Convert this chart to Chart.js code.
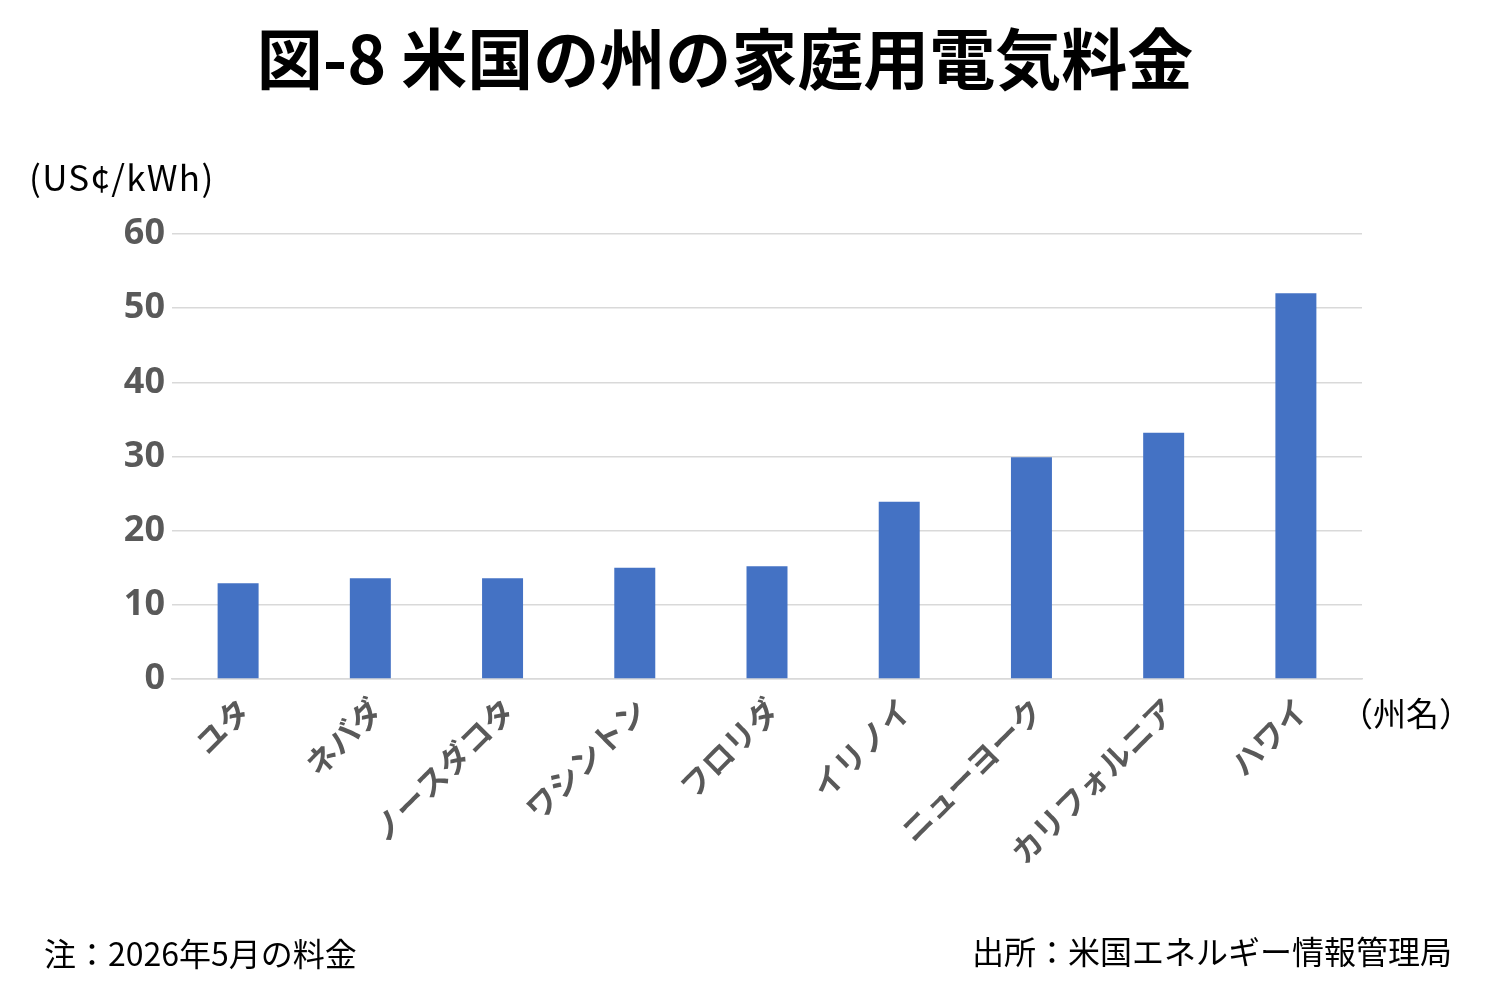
<!DOCTYPE html>
<html lang="ja">
<head>
<meta charset="utf-8">
<script src="https://cdn.jsdelivr.net/npm/chart.js@4/dist/chart.umd.min.js"></script>
<style>
  html, body { margin: 0; padding: 0; background: #fff; }
  #wrap { position: relative; width: 1500px; height: 1000px; font-family: 'Noto Sans CJK JP', 'Noto Sans', sans-serif; }
  #wrap canvas { position: absolute; left: 0; top: 0; }
  .txt { position: absolute; white-space: nowrap; color: #000; line-height: 1; }
  #title { left: 0; width: 1450px; top: 22px; text-align: center; font-size: 66px; font-weight: bold; }
  #unit { left: 29px; top: 158px; font-size: 35px; letter-spacing: 1.3px; }
  #xname { left: 1340px; top: 696px; font-size: 33px; }
  #note { left: 44px; top: 936px; font-size: 32px; }
  #src { right: 48px; top: 934px; font-size: 32px; }
</style>
</head>
<body>
<div id="wrap">
  <canvas id="myChart" width="1500" height="1000"></canvas>
  <div class="txt" id="title">図-8 米国の州の家庭用電気料金</div>
  <div class="txt" id="unit">(US¢/kWh)</div>
  <div class="txt" id="xname">（州名）</div>
  <div class="txt" id="note">注：2026年5月の料金</div>
  <div class="txt" id="src">出所：米国エネルギー情報管理局</div>
</div>
<script>
// 州名と料金 (US¢/kWh)
const states = ['ユタ', 'ネバダ', 'ノースダコタ', 'ワシントン', 'フロリダ', 'イリノイ', 'ニューヨーク', 'カリフォルニア', 'ハワイ'];
const prices = [12.9, 13.6, 13.6, 15.0, 15.2, 23.9, 29.9, 33.2, 52.0];
const yTicks = [0, 10, 20, 30, 40, 50, 60];

add_bar_graph();

/**
 * 棒グラフ追加
 */
function add_bar_graph() {
  new Chart(
    document.getElementById('myChart').getContext('2d'),
    {
      type: 'bar',
      data: {
        labels: states,
        datasets: [{
          data: prices,
          backgroundColor: '#4472C4',
          borderWidth: 0,
          barPercentage: 0.31,
          categoryPercentage: 1.0
        }]
      },
      options: {
        responsive: false,
        animation: false,
        devicePixelRatio: 1,
        layout: {
          padding: { top: 234, right: 138, bottom: 0, left: 0 }
        },
        plugins: {
          legend: { display: false },
          tooltip: { enabled: false }
        },
        scales: {
          x: {
            grid: { display: false, drawTicks: false },
            border: { display: true, color: '#d9d9d9', width: 1.5 },
            ticks: {
              maxRotation: 45,
              minRotation: 45,
              padding: 12,
              labelOffset: 6,
              color: '#595959',
              font: { family: "'Noto Sans CJK JP', sans-serif", size: 31, weight: 'bold' }
            },
            afterFit: function(scale) { scale.height = 321; }
          },
          y: {
            min: 0,
            max: 60,
            afterBuildTicks: function(scale) {
              scale.ticks = yTicks.map(v => ({ value: v }));
            },
            grid: { color: '#d9d9d9', lineWidth: 1.5, drawTicks: false },
            border: { display: false },
            ticks: {
              padding: 7,
              color: '#595959',
              font: { family: "'Noto Sans', 'Noto Sans CJK JP', sans-serif", size: 36, weight: 'bold' }
            },
            afterFit: function(scale) { scale.width = 172; }
          }
        }
      }
    }
  );
}
</script>
</body>
</html>
